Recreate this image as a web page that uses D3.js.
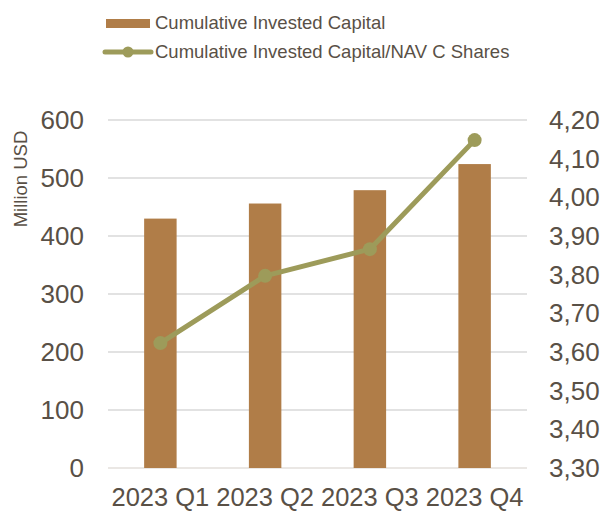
<!DOCTYPE html>
<html><head><meta charset="utf-8">
<script src="https://cdn.jsdelivr.net/npm/d3@7/dist/d3.min.js"></script>
<style>body{margin:0;background:#fff}svg{display:block}text{font-family:"Liberation Sans",Arial,sans-serif}</style>
</head><body>
<svg id="c" width="604" height="511"></svg>
<script>
const categories = ["2023 Q1","2023 Q2","2023 Q3","2023 Q4"];
const capital = [430, 456, 479, 524];
const navRatio = [3.623, 3.797, 3.866, 4.148];
const leftTicks = [0,100,200,300,400,500,600];
const rightTicks = [3.3,3.4,3.5,3.6,3.7,3.8,3.9,4.0,4.1,4.2];
const seriesNames = ["Cumulative Invested Capital","Cumulative Invested Capital/NAV C Shares"];

const textColor = "#595046", barColor = "#B07D48", lineColor = "#9D9B5A", gridColor = "#D9D9D9";
const svg = d3.select("#c");
const L = 108, R = 527, T = 120, B = 468;
const x = d3.scaleBand().domain(categories).range([L, R]).paddingInner(0.69).paddingOuter(0.345);
const xc = d3.scaleBand().domain(categories).range([L, R]);
const yL = d3.scaleLinear().domain([0,600]).range([B, T]);
const yR = d3.scaleLinear().domain([3.3,4.2]).range([B, T]);

svg.append("g").selectAll("line").data(leftTicks).join("line")
  .attr("x1", L).attr("x2", R).attr("y1", d=>yL(d)).attr("y2", d=>yL(d))
  .attr("stroke", (d)=> d===0 ? "#E3DFDB" : gridColor).attr("stroke-width", 1.5);

svg.append("g").selectAll("text").data(leftTicks).join("text")
  .attr("x", 84).attr("y", d=>yL(d)).attr("dy","0.35em").attr("text-anchor","end")
  .attr("font-size", 26).attr("fill", textColor).text(d=>d);

const fmtR = d => d3.format(".2f")(d).replace(".", ",");
svg.append("g").selectAll("text").data(rightTicks).join("text")
  .attr("x", 549).attr("y", d=>yR(d)).attr("dy","0.35em").attr("text-anchor","start")
  .attr("font-size", 26).attr("fill", textColor).text(fmtR);

svg.append("text").attr("transform","translate(27,179) rotate(-90)").attr("text-anchor","middle")
  .attr("font-size", 18.5).attr("fill", textColor).text("Million USD");

svg.append("g").selectAll("text").data(categories).join("text")
  .attr("x", d=>xc(d)+xc.bandwidth()/2).attr("y", 505.5).attr("text-anchor","middle")
  .attr("font-size", 25.5).attr("fill", textColor).text(d=>d);

svg.append("g").selectAll("rect").data(capital).join("rect")
  .attr("x", (d,i)=>x(categories[i])).attr("width", x.bandwidth())
  .attr("y", d=>yL(d)).attr("height", d=>yL(0)-yL(d)).attr("fill", barColor);

const cx = (d,i)=> xc(categories[i]) + xc.bandwidth()/2;
svg.append("path").datum(navRatio)
  .attr("d", d3.line().x(cx).y(d=>yR(d)))
  .attr("fill","none").attr("stroke", lineColor).attr("stroke-width", 5).attr("stroke-linejoin","round");
svg.append("g").selectAll("circle").data(navRatio).join("circle")
  .attr("cx", cx).attr("cy", d=>yR(d)).attr("r", 7).attr("fill", lineColor);

const lg = svg.append("g");
lg.append("rect").attr("x",106).attr("y",19).attr("width",44).attr("height",9).attr("fill",barColor);
lg.append("text").attr("x",155).attr("y",23).attr("dy","0.35em").attr("font-size",18.5).attr("fill",textColor).text(seriesNames[0]);
lg.append("line").attr("x1",105).attr("x2",151).attr("y1",52).attr("y2",52).attr("stroke",lineColor).attr("stroke-width",5).attr("stroke-linecap","round");
lg.append("circle").attr("cx",128).attr("cy",52).attr("r",5.5).attr("fill",lineColor);
lg.append("text").attr("x",155).attr("y",52).attr("dy","0.35em").attr("font-size",18.5).attr("fill",textColor).text(seriesNames[1]);
</script>
</body></html>
